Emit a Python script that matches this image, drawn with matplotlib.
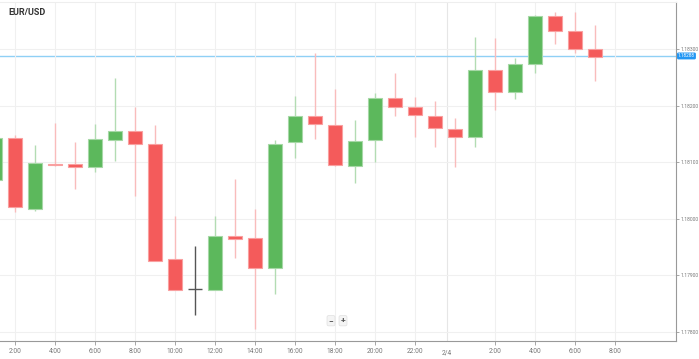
import numpy as np
import matplotlib
matplotlib.use('Agg')
from matplotlib import pyplot as plt
from matplotlib import transforms

plt.rcParams['font.family'] = ['Roboto', 'DejaVu Sans']

# hourly candles, hour counted from 0:00 of the first day
hours = list(range(1, 32))
opens = [1.18069, 1.18143, 1.18018, 1.18097, 1.18097, 1.18092, 1.18139, 1.18156,
         1.18133, 1.17928, 1.17875, 1.17874, 1.17970, 1.17965, 1.17913, 1.18135,
         1.18181, 1.18166, 1.18093, 1.18139, 1.18213, 1.18197, 1.18182, 1.18158,
         1.18145, 1.18263, 1.18225, 1.18274, 1.18359, 1.18332, 1.18300]
highs = [1.18146, 1.18148, 1.18130, 1.18170, 1.18135, 1.18167, 1.18249, 1.18198,
         1.18165, 1.18004, 1.17952, 1.18005, 1.18070, 1.18017, 1.18139, 1.18217,
         1.18293, 1.18229, 1.18175, 1.18222, 1.18257, 1.18215, 1.18208, 1.18179,
         1.18322, 1.18319, 1.18284, 1.18361, 1.18365, 1.18365, 1.18343]
lows = [1.18065, 1.18012, 1.18014, 1.18093, 1.18053, 1.18083, 1.18102, 1.18041,
        1.17925, 1.17874, 1.17830, 1.17874, 1.17931, 1.17805, 1.17866, 1.18107,
        1.18141, 1.18094, 1.18063, 1.18100, 1.18182, 1.18145, 1.18127, 1.18092,
        1.18127, 1.18192, 1.18211, 1.18258, 1.18310, 1.18293, 1.18244]
closes = [1.18143, 1.18020, 1.18098, 1.18095, 1.18092, 1.18141, 1.18155, 1.18132,
          1.17925, 1.17874, 1.17875, 1.17969, 1.17964, 1.17913, 1.18132, 1.18182,
          1.18167, 1.18095, 1.18138, 1.18214, 1.18198, 1.18183, 1.18160, 1.18145,
          1.18263, 1.18225, 1.18274, 1.18359, 1.18332, 1.18300, 1.18287]

last_price = 1.18288
y_ticks = [1.17800, 1.17900, 1.18000, 1.18100, 1.18200, 1.18300]
x_ticks = [2, 4, 6, 8, 10, 12, 14, 16, 18, 20, 22, 26, 28, 30, 32]
x_labels = ['2:00', '4:00', '6:00', '8:00', '10:00', '12:00', '14:00', '16:00',
            '18:00', '20:00', '22:00', '2:00', '4:00', '6:00', '8:00']
day_pos = 23.6
day_label = '2/4'

red, red_wick = '#f45b5b', '#f9bcbc'
green, green_wick = '#5cb85c', '#b3dcb3'
grey = '#555555'

fig = plt.figure(figsize=(6.99, 3.59), dpi=100)
ax = fig.add_axes([0.0, 0.0501, 0.967, 0.9443])

width = 0.66
for t, o, h, l, c in zip(hours, opens, highs, lows, closes):
    if c > o:
        col, wcol, ecol = green, green_wick, '#a6d8a6'
    elif c < o:
        col, wcol, ecol = red, red_wick, '#f9a0a0'
    else:
        col, wcol, ecol = grey, grey, grey
    ax.vlines(t, l, h, color=wcol, lw=1, zorder=2)
    lo, hi = min(o, c), max(o, c)
    if hi - lo < 0.00002:
        ax.hlines(o, t - width / 2, t + width / 2, color=col, lw=1, zorder=3)
    else:
        ax.bar(t, hi - lo, width=width, bottom=lo, color=col, edgecolor=ecol,
               linewidth=0.8, zorder=3)

ax.axhline(last_price, color='#8fd0f5', lw=1, zorder=1)

ax.set_xlim(1.25, 35.05)
ax.set_ylim(1.177835, 1.183835)

ax.set_xticks(x_ticks)
ax.set_xticklabels(x_labels)
ax.set_yticks(y_ticks)
ax.set_yticklabels(['%.5f' % v for v in y_ticks])
ax.yaxis.tick_right()
ax.tick_params(axis='x', labelsize=4.8, colors='#999999', labelcolor='#777777',
               length=3, width=0.6, pad=2)
ax.tick_params(axis='y', labelsize=3.6, colors='#999999', labelcolor='#777777',
               length=2, width=0.6, pad=1)
ax.grid(True, color='#f0f0f0', lw=0.8, zorder=0)
ax.axvline(day_pos, color='#e6e6e6', lw=0.8, zorder=0)
ax.text(day_pos, -0.035, day_label, transform=transforms.blended_transform_factory(ax.transData, ax.transAxes),
        ha='center', va='center', fontsize=4.8, color='#777777')

ax.spines['left'].set_visible(False)
ax.spines['top'].set_color('#eeeeee')
ax.spines['right'].set_color('#999999')
ax.spines['bottom'].set_color('#999999')

# current price badge
trans = transforms.blended_transform_factory(ax.transAxes, ax.transData)
ax.text(1.003, last_price, '%.5f' % last_price, transform=trans, ha='left', va='center',
        fontsize=3.4, color='white', clip_on=False,
        bbox=dict(boxstyle='round,pad=0.2,rounding_size=0.3', fc='#2196f3', ec='none'))

fig.text(0.012, 0.966, 'EUR/USD', fontsize=6.5, fontweight='bold', color='#333333', va='center')

for xp, s in [(331, '\u2212'), (343, '+')]:
    fig.text(xp / 699, 1 - 320.7 / 359, s, fontsize=6, fontweight='bold', color='#555555',
             ha='center', va='center',
             bbox=dict(boxstyle='round,pad=0.2', fc='#f4f4f4', ec='#e0e0e0', lw=0.5))

fig.savefig('out.png', dpi=100)
